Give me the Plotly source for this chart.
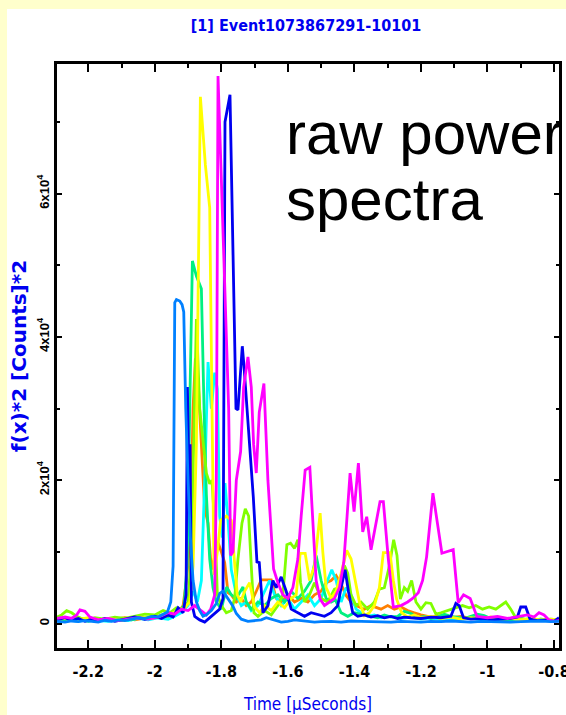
import plotly.graph_objects as go

# ---------------- data ----------------
TITLE = "[1] Event1073867291-10101"
X_TITLE = "Time [μSeconds]"
Y_TITLE = "f(x)*2 [Counts]*2"
NOTE_1 = "raw power"
NOTE_2 = "spectra"

X_TICKS = [-2.2, -2.0, -1.8, -1.6, -1.4, -1.2, -1.0, -0.8]
X_TICK_LABELS = ["-2.2", "-2", "-1.8", "-1.6", "-1.4", "-1.2", "-1", "-0.8"]
X_MINOR = [-2.1, -1.9, -1.7, -1.5, -1.3, -1.1, -0.9]
Y_TICKS = [0, 20000, 40000, 60000]
Y_TICK_LABELS = ["0", "2x10<sup>4</sup>", "4x10<sup>4</sup>", "6x10<sup>4</sup>"]
Y_MINOR = [10000, 30000, 50000, 70000]
X_RANGE = [-2.294, -0.785]
Y_RANGE = [-3420, 78090]

ORANGE = [(-2.294, 400), (-2.27, 600), (-2.24, 800), (-2.21, 500), (-2.18, 700), (-2.15, 400),
          (-2.12, 600), (-2.09, 800), (-2.06, 500), (-2.03, 700), (-2.0, 1000), (-1.97, 800),
          (-1.95, 1200), (-1.93, 1500), (-1.915, 2500), (-1.905, 6000), (-1.893, 12000),
          (-1.885, 30000), (-1.878, 37000), (-1.87, 34000), (-1.86, 25000), (-1.85, 16000),
          (-1.84, 14000), (-1.83, 7500), (-1.822, 9000), (-1.81, 11300), (-1.8, 10000),
          (-1.79, 8500), (-1.78, 4300), (-1.77, 4000), (-1.755, 3000), (-1.74, 3500),
          (-1.725, 2500), (-1.71, 3000), (-1.695, 4500), (-1.68, 6100), (-1.665, 6100),
          (-1.65, 6100), (-1.635, 3500), (-1.62, 3000), (-1.6, 4000), (-1.58, 3000),
          (-1.56, 3500), (-1.54, 3000), (-1.52, 4000), (-1.5, 4500), (-1.485, 5700),
          (-1.47, 6000), (-1.455, 6700), (-1.44, 5500), (-1.425, 3900), (-1.41, 3000),
          (-1.395, 2500), (-1.37, 2000), (-1.35, 2500), (-1.32, 2000), (-1.3, 2500),
          (-1.28, 2000), (-1.26, 2300), (-1.24, 1800), (-1.22, 1500), (-1.2, 1200),
          (-1.17, 900), (-1.14, 1100), (-1.11, 800), (-1.08, 1000), (-1.05, 700),
          (-1.02, 900), (-0.99, 600), (-0.96, 800), (-0.93, 500), (-0.9, 700),
          (-0.87, 400), (-0.84, 600), (-0.81, 400), (-0.785, 500)]

CYAN = [(-2.294, 300), (-2.26, 500), (-2.23, 300), (-2.2, 600), (-2.17, 400), (-2.14, 300),
        (-2.11, 500), (-2.08, 400), (-2.05, 700), (-2.02, 500), (-1.99, 800), (-1.96, 600),
        (-1.94, 1000), (-1.92, 1500), (-1.9, 2500), (-1.885, 4500), (-1.872, 3000),
        (-1.86, 6000), (-1.85, 20000), (-1.84, 36500), (-1.83, 30000), (-1.82, 35000),
        (-1.812, 32700), (-1.805, 15000), (-1.797, 12000), (-1.789, 19600), (-1.78, 14500),
        (-1.77, 7500), (-1.755, 4000), (-1.74, 2500), (-1.725, 3000), (-1.71, 1800),
        (-1.69, 2500), (-1.67, 4500), (-1.655, 6000), (-1.64, 4000), (-1.62, 2500),
        (-1.6, 3500), (-1.58, 2000), (-1.56, 3000), (-1.54, 4000), (-1.52, 2500),
        (-1.5, 3500), (-1.485, 5500), (-1.468, 7500), (-1.455, 6000), (-1.44, 3000),
        (-1.425, 5000), (-1.41, 4000), (-1.395, 2000), (-1.38, 1500), (-1.36, 1000),
        (-1.34, 1200), (-1.32, 800), (-1.29, 1000), (-1.26, 700), (-1.23, 900),
        (-1.2, 600), (-1.17, 800), (-1.14, 500), (-1.11, 700), (-1.08, 600),
        (-1.05, 800), (-1.02, 500), (-0.99, 600), (-0.96, 400), (-0.93, 600),
        (-0.9, 500), (-0.87, 700), (-0.84, 400), (-0.81, 500), (-0.785, 400)]

SPRING = [(-2.294, 600), (-2.27, 400), (-2.25, 700), (-2.23, 500), (-2.2, 300), (-2.17, 600),
          (-2.14, 400), (-2.1, 700), (-2.07, 500), (-2.04, 900), (-2.01, 700), (-1.98, 1200),
          (-1.96, 1000), (-1.94, 1500), (-1.925, 1800), (-1.912, 2500), (-1.903, 8000),
          (-1.895, 30000), (-1.887, 50600), (-1.875, 48500), (-1.86, 46700), (-1.852, 30000),
          (-1.845, 18000), (-1.835, 9000), (-1.825, 5000), (-1.815, 3000), (-1.8, 2000),
          (-1.784, 5100), (-1.77, 4000), (-1.755, 3500), (-1.735, 5100), (-1.725, 3000),
          (-1.71, 2000), (-1.69, 3000), (-1.67, 2500), (-1.65, 3500), (-1.63, 4000),
          (-1.61, 3000), (-1.59, 4500), (-1.57, 3500), (-1.55, 4500), (-1.53, 6000),
          (-1.515, 9500), (-1.5, 6000), (-1.485, 3500), (-1.47, 3000), (-1.457, 3300),
          (-1.44, 1500), (-1.42, 1000), (-1.4, 1500), (-1.37, 1200), (-1.35, 1000),
          (-1.33, 800), (-1.31, 1200), (-1.29, 900), (-1.27, 1000), (-1.25, 1700),
          (-1.23, 1400), (-1.21, 800), (-1.19, 1000), (-1.17, 700), (-1.15, 900),
          (-1.13, 1300), (-1.11, 1000), (-1.09, 800), (-1.07, 700), (-1.05, 1000),
          (-1.03, 1300), (-1.01, 1100), (-0.99, 700), (-0.96, 600), (-0.93, 500),
          (-0.9, 700), (-0.87, 400), (-0.84, 600), (-0.81, 500), (-0.785, 400)]

LIME = [(-2.294, 900), (-2.28, 1200), (-2.265, 1800), (-2.25, 1500), (-2.235, 1000),
        (-2.22, 700), (-2.2, 500), (-2.18, 800), (-2.15, 600), (-2.12, 900), (-2.09, 700),
        (-2.06, 1000), (-2.03, 1300), (-2.0, 1200), (-1.975, 1800), (-1.955, 1500),
        (-1.935, 2200), (-1.915, 2000), (-1.9, 3000), (-1.89, 10000), (-1.875, 42500),
        (-1.865, 30000), (-1.855, 25000), (-1.845, 21000), (-1.835, 19500), (-1.828, 20000),
        (-1.818, 12000), (-1.812, 4000), (-1.8, 2500), (-1.785, 1500), (-1.77, 1800),
        (-1.76, 3500), (-1.75, 9000), (-1.738, 14000), (-1.728, 16000), (-1.718, 15000),
        (-1.71, 8000), (-1.702, 1500), (-1.69, 1000), (-1.67, 1800), (-1.65, 1200),
        (-1.63, 2500), (-1.615, 4000), (-1.603, 11000), (-1.592, 11200), (-1.58, 10500),
        (-1.57, 11700), (-1.562, 5700), (-1.55, 3000), (-1.535, 4000), (-1.52, 5700),
        (-1.5, 3500), (-1.48, 3000), (-1.46, 4800), (-1.445, 5000), (-1.43, 8100),
        (-1.42, 7000), (-1.41, 4000), (-1.395, 2500), (-1.38, 3000), (-1.36, 2000),
        (-1.34, 3000), (-1.325, 4800), (-1.31, 5000), (-1.295, 8000), (-1.282, 11700),
        (-1.272, 9500), (-1.262, 3400), (-1.25, 5000), (-1.24, 4500), (-1.228, 6000),
        (-1.215, 3000), (-1.2, 2000), (-1.185, 2900), (-1.17, 2800), (-1.155, 1300),
        (-1.14, 1500), (-1.12, 1800), (-1.1, 2200), (-1.075, 2500), (-1.055, 2200),
        (-1.035, 2500), (-1.015, 2000), (-0.995, 2300), (-0.975, 2000), (-0.96, 2500),
        (-0.945, 3000), (-0.93, 2000), (-0.915, 800), (-0.9, 600), (-0.87, 500),
        (-0.84, 400), (-0.81, 600), (-0.785, 500)]

YELLOW = [(-2.294, 500), (-2.27, 700), (-2.25, 400), (-2.23, 600), (-2.2, 800), (-2.17, 500),
          (-2.14, 700), (-2.1, 400), (-2.07, 600), (-2.04, 900), (-2.01, 700), (-1.98, 1100),
          (-1.95, 1400), (-1.93, 1800), (-1.91, 2200), (-1.895, 3000), (-1.885, 8000),
          (-1.875, 25000), (-1.863, 73500), (-1.848, 64000), (-1.835, 58000), (-1.828, 30000),
          (-1.822, 6800), (-1.812, 10000), (-1.802, 14400), (-1.785, 15000), (-1.77, 14400),
          (-1.762, 9500), (-1.752, 4000), (-1.742, 3000), (-1.73, 4500), (-1.715, 5700),
          (-1.7, 2300), (-1.685, 1500), (-1.67, 2500), (-1.65, 1800), (-1.63, 3000),
          (-1.61, 2200), (-1.59, 3500), (-1.575, 4000), (-1.563, 9800), (-1.548, 9800),
          (-1.535, 6000), (-1.52, 8000), (-1.503, 15400), (-1.495, 10000), (-1.485, 5000),
          (-1.47, 3500), (-1.455, 4500), (-1.44, 7000), (-1.423, 10200), (-1.41, 9000),
          (-1.4, 6700), (-1.385, 3000), (-1.37, 1100), (-1.355, 1500), (-1.34, 2500),
          (-1.325, 5000), (-1.313, 9900), (-1.293, 9900), (-1.283, 6000), (-1.273, 3400),
          (-1.258, 1500), (-1.24, 900), (-1.22, 1200), (-1.2, 800), (-1.17, 1000),
          (-1.14, 700), (-1.11, 900), (-1.08, 600), (-1.05, 800), (-1.02, 600),
          (-0.99, 900), (-0.96, 600), (-0.93, 700), (-0.9, 500), (-0.87, 700),
          (-0.84, 500), (-0.81, 600), (-0.785, 500)]

BLUE = [(-2.294, 500), (-2.27, 800), (-2.25, 400), (-2.23, 700), (-2.21, 300), (-2.19, 600),
        (-2.17, 400), (-2.15, 700), (-2.12, 300), (-2.09, 600), (-2.06, 900), (-2.03, 600),
        (-2.0, 1000), (-1.98, 700), (-1.96, 1200), (-1.945, 900), (-1.93, 2200),
        (-1.915, 1500), (-1.906, 4000), (-1.902, 33000), (-1.898, 22000), (-1.894, 25000),
        (-1.89, 3000), (-1.88, 1000), (-1.865, 500), (-1.85, 200), (-1.835, 800),
        (-1.82, 1500), (-1.805, 2000), (-1.795, 3500), (-1.789, 70000), (-1.774, 73800),
        (-1.756, 30000), (-1.75, 29800), (-1.737, 38700), (-1.732, 36000), (-1.714, 24000),
        (-1.704, 17700), (-1.693, 8600), (-1.686, 8500), (-1.675, 1500), (-1.66, 2500),
        (-1.645, 6000), (-1.635, 5000), (-1.62, 6500), (-1.605, 4500), (-1.59, 2000),
        (-1.57, 1500), (-1.55, 1000), (-1.53, 1500), (-1.51, 1200), (-1.49, 1000),
        (-1.47, 1500), (-1.45, 2500), (-1.44, 5000), (-1.428, 7500), (-1.418, 4500),
        (-1.405, 1500), (-1.39, 1000), (-1.37, 1200), (-1.35, 900), (-1.33, 1100),
        (-1.31, 800), (-1.29, 1000), (-1.27, 700), (-1.25, 900), (-1.23, 800),
        (-1.2, 700), (-1.17, 900), (-1.14, 800), (-1.11, 1000), (-1.095, 2800),
        (-1.085, 2500), (-1.072, 800), (-1.05, 600), (-1.02, 700), (-0.99, 500),
        (-0.96, 600), (-0.93, 700), (-0.91, 900), (-0.9, 2300), (-0.885, 2300),
        (-0.872, 600), (-0.85, 400), (-0.82, 500), (-0.8, 300), (-0.785, 800)]

MAGENTA = [(-2.294, 700), (-2.27, 900), (-2.25, 700), (-2.235, 1200), (-2.225, 1900),
           (-2.21, 1700), (-2.195, 900), (-2.17, 500), (-2.14, 700), (-2.11, 400),
           (-2.08, 600), (-2.05, 800), (-2.02, 600), (-1.99, 900), (-1.96, 1500),
           (-1.94, 1300), (-1.92, 2000), (-1.9, 1800), (-1.88, 2500), (-1.86, 1800),
           (-1.845, 1200), (-1.832, 2000), (-1.82, 4000), (-1.815, 20000), (-1.81, 76400),
           (-1.8, 62000), (-1.785, 42000), (-1.778, 30000), (-1.772, 9500), (-1.765, 10000),
           (-1.755, 20000), (-1.742, 24000), (-1.733, 33000), (-1.72, 37200), (-1.71, 33000),
           (-1.703, 25000), (-1.695, 21000), (-1.686, 29500), (-1.672, 33500), (-1.66, 20000),
           (-1.643, 7600), (-1.63, 5700), (-1.615, 4000), (-1.6, 3500), (-1.585, 5000),
           (-1.57, 9000), (-1.56, 15000), (-1.548, 21400), (-1.534, 21800), (-1.525, 15000),
           (-1.515, 6000), (-1.503, 3400), (-1.49, 2500), (-1.475, 3000), (-1.46, 3500),
           (-1.445, 5000), (-1.432, 8500), (-1.422, 15000), (-1.413, 21000), (-1.401, 15600),
           (-1.388, 22400), (-1.375, 12800), (-1.363, 14900), (-1.35, 10300), (-1.323, 17000),
           (-1.313, 17000), (-1.298, 9000), (-1.283, 2300), (-1.26, 2500), (-1.24, 3000),
           (-1.225, 3500), (-1.208, 4300), (-1.195, 6000), (-1.183, 9300), (-1.164, 18200),
           (-1.137, 9800), (-1.103, 10300), (-1.088, 2900), (-1.072, 4000), (-1.052, 3500),
           (-1.032, 1000), (-1.0, 800), (-0.97, 1000), (-0.94, 700), (-0.91, 900),
           (-0.88, 1200), (-0.86, 900), (-0.845, 1500), (-0.83, 1200), (-0.815, 500),
           (-0.8, 300), (-0.785, 400)]

AZURE = [(-2.294, 300), (-2.27, 200), (-2.25, 350), (-2.23, 250), (-2.21, 400), (-2.19, 300),
         (-2.17, 200), (-2.15, 450), (-2.13, 300), (-2.11, 500), (-2.09, 400), (-2.07, 600),
         (-2.05, 800), (-2.03, 700), (-2.01, 1000), (-1.99, 900), (-1.975, 1300),
         (-1.962, 1600), (-1.952, 3000), (-1.945, 8000), (-1.94, 44800), (-1.935, 45200),
         (-1.925, 45000), (-1.918, 44500), (-1.913, 43500), (-1.907, 30000), (-1.9, 20000),
         (-1.893, 12000), (-1.885, 6000), (-1.875, 3000), (-1.865, 1800), (-1.855, 1000),
         (-1.845, 1200), (-1.83, 1800), (-1.815, 2800), (-1.805, 4200), (-1.795, 4500),
         (-1.785, 3800), (-1.775, 3200), (-1.765, 2400), (-1.755, 1400), (-1.74, 600),
         (-1.72, 300), (-1.7, 400), (-1.68, 500), (-1.665, 800), (-1.65, 600), (-1.635, 300),
         (-1.62, 200), (-1.6, 300), (-1.58, 500), (-1.56, 400), (-1.54, 300), (-1.52, 200),
         (-1.5, 250), (-1.47, 300), (-1.44, 200), (-1.41, 350), (-1.38, 300), (-1.35, 250),
         (-1.32, 300), (-1.29, 200), (-1.26, 300), (-1.23, 250), (-1.2, 200), (-1.17, 300),
         (-1.14, 250), (-1.11, 350), (-1.08, 300), (-1.05, 200), (-1.02, 300), (-0.99, 250),
         (-0.96, 300), (-0.93, 200), (-0.9, 250), (-0.87, 300), (-0.84, 350), (-0.81, 250),
         (-0.785, 300)]

SERIES = [
    ("orange", ORANGE, "#FF8000"),
    ("cyan", CYAN, "#00FFFF"),
    ("spring", SPRING, "#00F080"),
    ("lime", LIME, "#80FF00"),
    ("yellow", YELLOW, "#FFFF00"),
    ("blue", BLUE, "#0000F0"),
    ("magenta", MAGENTA, "#FF00FF"),
    ("azure", AZURE, "#0080FF"),
]

# ---------------- figure ----------------
W, H = 566, 715
ML, MR, MT, MB = 57, 7, 64, 67
PW, PH = W - ML - MR, H - MT - MB

fig = go.Figure()
for name, pts, color in SERIES:
    xs = [p[0] for p in pts]
    ys = [p[1] for p in pts]
    fig.add_trace(go.Scatter(x=xs, y=ys, mode="lines", name=name,
                             line=dict(color=color, width=2.8), showlegend=False))

BLUE_TXT = "#0000F0"
NARROW = "DejaVu Sans Condensed, Liberation Sans Narrow, Arial Narrow, Liberation Sans, sans-serif"

# white panel over the pale-yellow page
fig.add_shape(type="rect", xref="paper", yref="paper",
              x0=(7 - ML) / PW, x1=(W - ML + 20) / PW,
              y0=-(MB + 20) / PH, y1=(PH + MT - 9) / PH,
              fillcolor="white", line=dict(width=0), layer="below")

fig.update_layout(
    width=W, height=H,
    margin=dict(l=ML, r=MR, t=MT, b=MB, autoexpand=False),
    paper_bgcolor="#FFFFCC", plot_bgcolor="white",
    title=dict(text=TITLE, x=306 / W, xanchor="center", y=1 - 25 / H, yanchor="middle",
               automargin=False,
               font=dict(family=NARROW, size=16, color=BLUE_TXT, weight="bold")),
    xaxis=dict(range=X_RANGE, showgrid=False, zeroline=False, automargin=False,
               showline=True, linecolor="black", linewidth=3, mirror="allticks",
               ticks="inside", ticklen=8, tickwidth=2, tickcolor="black",
               tickmode="array", tickvals=X_TICKS, ticktext=X_TICK_LABELS,
               ticklabeloverflow="allow", ticklabelstandoff=7,
               tickfont=dict(family=NARROW, size=16, color="black", weight="bold"),
               minor=dict(tickmode="array", tickvals=X_MINOR, ticks="inside", ticklen=4,
                          tickwidth=2, tickcolor="black"),
               title=dict(text=X_TITLE, standoff=18,
                          font=dict(family=NARROW, size=17, color=BLUE_TXT))),
    yaxis=dict(range=Y_RANGE, showgrid=False, zeroline=False, automargin=False,
               showline=True, linecolor="black", linewidth=3, mirror="allticks",
               ticks="inside", ticklen=5, tickwidth=2, tickcolor="black",
               tickmode="array", tickvals=Y_TICKS, ticktext=Y_TICK_LABELS, tickangle=-90,
               ticklabeloverflow="allow",
               tickfont=dict(family="Liberation Sans, Arial, sans-serif", size=13,
                             color="black", weight="bold"),
               minor=dict(tickmode="array", tickvals=Y_MINOR, ticks="inside", ticklen=3,
                          tickwidth=2, tickcolor="black"),
               title=dict(text=Y_TITLE, standoff=4,
                          font=dict(family="DejaVu Sans, sans-serif", size=20,
                                    color=BLUE_TXT, weight="bold"))),
)

NOTE_FONT = dict(family="Liberation Sans, Arial, Helvetica, sans-serif", size=60, color="black")
fig.add_annotation(text=NOTE_1, xref="paper", yref="paper", x=(284 - ML) / PW,
                   y=(MT + PH - 133) / PH, xanchor="left", yanchor="middle", showarrow=False,
                   font=NOTE_FONT)
fig.add_annotation(text=NOTE_2, xref="paper", yref="paper", x=(284 - ML) / PW,
                   y=(MT + PH - 199) / PH, xanchor="left", yanchor="middle", showarrow=False,
                   font=NOTE_FONT)

fig.write_html("out.html")
